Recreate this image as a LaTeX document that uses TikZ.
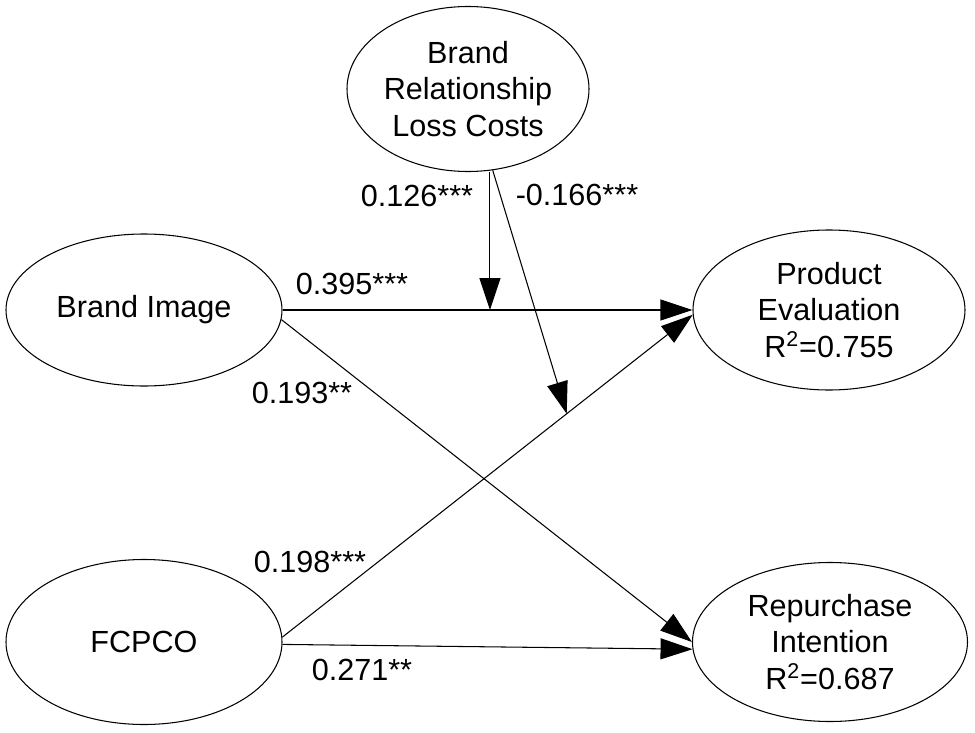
\documentclass[tikz,border=0pt]{standalone}
\usepackage{fontspec}
\setmainfont{Liberation Sans}
\usetikzlibrary{shapes.geometric,arrows.meta,calc}

\begin{document}
\begin{tikzpicture}[->,>={Triangle[length=6.4mm,width=4.2mm]}, line width=0.6pt, font=\fontsize{17.4}{20.8}\selectfont]
		\tikzstyle{construct}=[ellipse,draw=black,text=black,inner sep=0pt,align=center]
		\tikzstyle{coef}=[inner sep=0pt,text=black]
		
		\useasboundingbox (0,0) rectangle (19.5,-14.66);
		
		\node [construct, minimum width=4.84cm, minimum height=3.3cm] (brlc) at (9.36,-1.78) {Brand\\Relationship\\Loss Costs};
		
		\node [construct, minimum width=5.52cm, minimum height=3.04cm] (bi) at (2.88,-6.2) {Brand Image};
		\node [construct, minimum width=5.52cm, minimum height=3.3cm] (fc) at
		($(bi)+(0,-6.64)$) {FCPCO};
		
		\node [construct, minimum width=5.44cm, minimum height=3.2cm] (pe) at
		($(bi)+(13.7,0)$) {Product\\Evaluation\\R\textsuperscript{2}=0.755};
		\node [construct, minimum width=5.5cm, minimum height=3.18cm] (ri) at
		($(fc)+(13.72,0)$) {Repurchase\\Intention\\R\textsuperscript{2}=0.687};
		
		% path coefficients
		\node [coef] (c126) at (8.34,-3.92) {0.126***}; \node [coef] (c166) at
		(11.54,-3.9) {-0.166***};
		\node [coef] (c395) at (7.04,-5.68) {0.395***}; \node [coef] (c193) at
		(6.04,-7.86) {0.193**};
		\node [coef] (c198) at (6.2,-11.24) {0.198***}; \node [coef] (c271) at
		(7.24,-13.4) {0.271**};
		
		\draw [->] (bi.east) to (pe.west); \draw [->] (bi.-4) to (ri.west);
		\draw [->] (fc.2) to (pe.182); \draw [->] (fc.-1) to (ri.183);
		
		% moderation
		\path (bi.east) -- (pe.west) coordinate [pos=0.506] (m1);
		\path (fc.2) -- (pe.182) coordinate [pos=0.693] (m2);
		\draw [->] (brlc.south -| m1) to (m1); \draw [->] (brlc) to (m2);
	\end{tikzpicture}
\end{document}
